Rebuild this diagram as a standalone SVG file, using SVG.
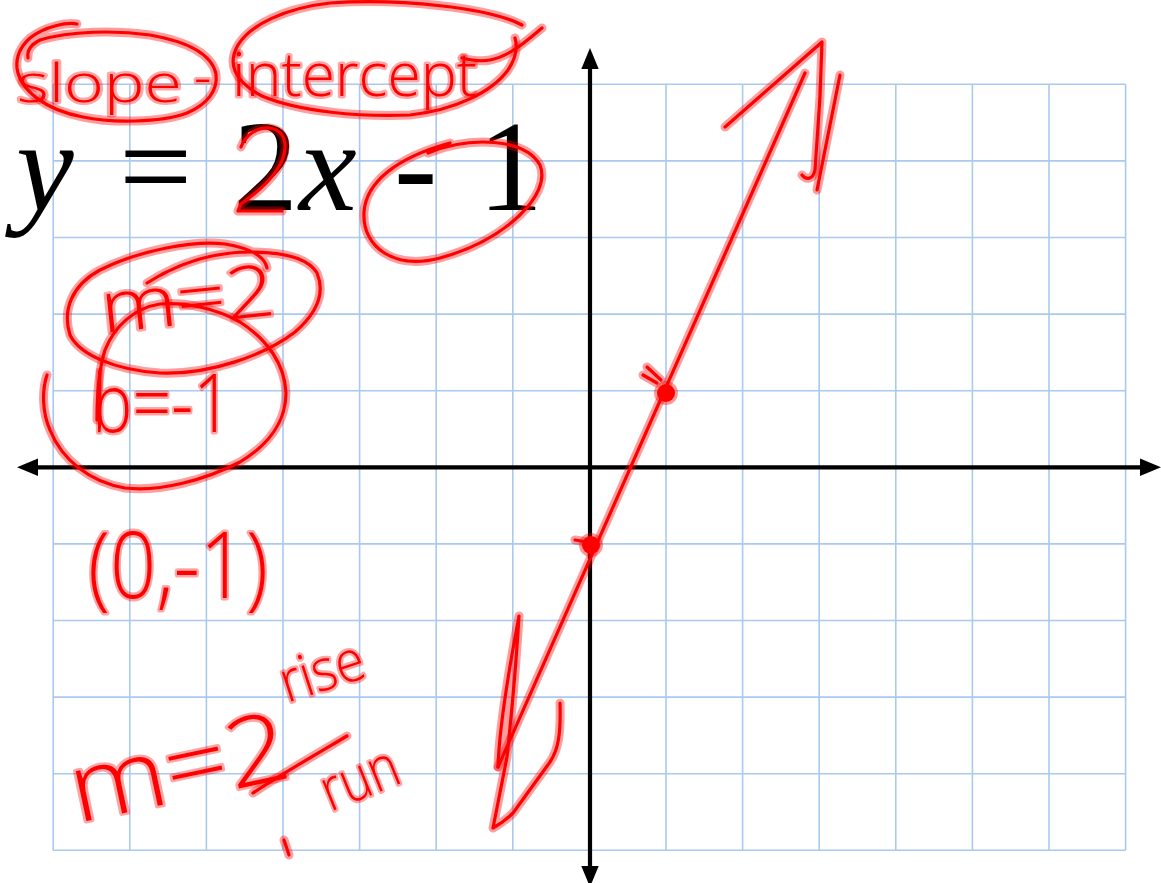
<svg xmlns="http://www.w3.org/2000/svg" xmlns:xlink="http://www.w3.org/1999/xlink" width="1161" height="883" viewBox="0 0 1161 883">
<style>
.grid line{stroke:#a9c9ef;stroke-width:1.6}
.axis{stroke:#000;stroke-width:4.2;fill:none}
.ah{fill:#000}
.eq{font-family:"Liberation Serif","Times New Roman",serif;font-size:130px;fill:#000}
.it{font-style:italic}
.halo{fill:none;stroke:#ff0000;stroke-opacity:.38;stroke-width:9;stroke-linecap:round;stroke-linejoin:round}
.core{fill:none;stroke:#ff0000;stroke-width:3.2;stroke-linecap:round;stroke-linejoin:round}
.dot{fill:#ff0000;stroke:#ff0000;stroke-opacity:.4;stroke-width:6}
.hw{font-family:"Open Sans","Noto Sans","Liberation Sans",sans-serif;font-weight:300;fill:#ff0000;stroke:#ff0000;stroke-opacity:.35;stroke-width:5;paint-order:stroke;stroke-linejoin:round}
</style>
<defs>
<g id="ink">
<!-- slope ellipse -->
<path d="M77 24 C68 22 45 26 30 38 C20 47 16 58 17 68 C20 90 45 110 83 117 C110 123 160 123 187 113 C208 104 218 90 216 74 C212 55 190 42 150 35 C115 30 70 31 40 40 C30 45 27 52 28 58"/>
<!-- intercept ellipse -->
<path d="M522 25 C490 8 400 -2 330 3 C285 8 250 25 238 45 C228 62 232 80 262 96 C300 112 360 117 410 115 C455 110 492 92 508 70 C516 58 518 48 515 38"/>
<path d="M542 28 C525 42 510 56 490 60 C480 62 470 60 462 58"/>
<!-- circle around -1 -->
<path d="M428 153 C470 136 525 138 540 165 C552 195 505 240 440 258 C395 270 362 248 364 212 C366 183 395 158 450 143"/>
<!-- trace over 2 -->
<path d="M241 147 C246 134 258 127 270 128 C284 130 288 143 283 158 C277 175 258 192 241 204 L238 211 L282 211"/>
<!-- m=2 ellipse -->
<path d="M267 268 C265 258 255 249 225 244 C195 240 140 250 100 270 C72 285 62 310 70 335 C80 355 115 370 160 373 C210 375 265 355 295 332 C318 312 325 292 317 273 C308 258 285 252 250 252 C215 252 180 262 147 283"/>
<!-- b circle -->
<path d="M47 375 C42 390 42 412 50 430 C62 460 90 482 125 488 C160 492 205 480 240 462 C270 444 286 420 286 393 C285 365 268 340 240 322 C215 308 185 302 160 304 C135 308 115 325 105 350 C98 372 97 400 97 420"/>
<!-- main graph line -->
<path d="M805 73 L498 767"/>
<!-- top arrowhead -->
<path d="M725 127 L822 42 L820 97 L815 170 C813 180 806 180 802 175"/>
<path d="M840 75 L817 190"/>
<!-- bottom arrowhead -->
<path d="M498 767 C499 735 505 690 519 616 C517 650 512 710 507 757 L493 828 C500 824 508 818 513 813 L550 762 C558 750 561 735 560 703"/>
<!-- point marks -->
<path d="M647 367 L661 380 M643 375 L657 383"/>
<path d="M575 540 L587 542"/>
<!-- fraction slash and tick -->
<path d="M253 793 C280 775 320 752 347 736"/>
<path d="M284 840 L289 855"/>
</g>
</defs>

<g id="grid" class="grid">
<line x1="53.2" y1="84.3" x2="53.2" y2="850.3"/>
<line x1="129.8" y1="84.3" x2="129.8" y2="850.3"/>
<line x1="206.4" y1="84.3" x2="206.4" y2="850.3"/>
<line x1="283" y1="84.3" x2="283" y2="850.3"/>
<line x1="359.6" y1="84.3" x2="359.6" y2="850.3"/>
<line x1="436.2" y1="84.3" x2="436.2" y2="850.3"/>
<line x1="512.8" y1="84.3" x2="512.8" y2="850.3"/>
<line x1="666" y1="84.3" x2="666" y2="850.3"/>
<line x1="742.6" y1="84.3" x2="742.6" y2="850.3"/>
<line x1="819.2" y1="84.3" x2="819.2" y2="850.3"/>
<line x1="895.8" y1="84.3" x2="895.8" y2="850.3"/>
<line x1="972.4" y1="84.3" x2="972.4" y2="850.3"/>
<line x1="1049" y1="84.3" x2="1049" y2="850.3"/>
<line x1="1125.6" y1="84.3" x2="1125.6" y2="850.3"/>
<line x1="53.2" y1="84.3" x2="1125.6" y2="84.3"/>
<line x1="53.2" y1="160.9" x2="1125.6" y2="160.9"/>
<line x1="53.2" y1="237.5" x2="1125.6" y2="237.5"/>
<line x1="53.2" y1="314.1" x2="1125.6" y2="314.1"/>
<line x1="53.2" y1="390.7" x2="1125.6" y2="390.7"/>
<line x1="53.2" y1="543.9" x2="1125.6" y2="543.9"/>
<line x1="53.2" y1="620.5" x2="1125.6" y2="620.5"/>
<line x1="53.2" y1="697.1" x2="1125.6" y2="697.1"/>
<line x1="53.2" y1="773.7" x2="1125.6" y2="773.7"/>
<line x1="53.2" y1="850.3" x2="1125.6" y2="850.3"/>
</g>

<g id="axes">
<line class="axis" x1="34" y1="467.3" x2="1144" y2="467.3"/>
<line class="axis" x1="590" y1="64" x2="590" y2="870"/>
<polygon class="ah" points="17,467.3 38,458.5 38,476.1"/>
<polygon class="ah" points="1161,467.3 1140,458.5 1140,476.1"/>
<polygon class="ah" points="590,48 581.3,69 598.7,69"/>
<polygon class="ah" points="590,887 581.3,866 598.7,866"/>
</g>

<g id="equation">
<text class="eq it" x="16" y="210">y</text>
<text class="eq" x="119" y="210">=</text>
<text class="eq" x="233" y="210">2</text>
<text class="eq it" x="299" y="210">x</text>
<text class="eq" x="394" y="210">-</text>
<text class="eq" x="478" y="210">1</text>
</g>

<g id="strokes">
<use xlink:href="#ink" class="halo"/>
<use xlink:href="#ink" class="core"/>
<circle class="dot" cx="666" cy="393" r="9"/>
<circle class="dot" cx="591" cy="545" r="9"/>
</g>

<g id="notes">
<text class="hw" x="17" y="102" font-size="54" textLength="165" lengthAdjust="spacingAndGlyphs">slope</text>
<text class="hw" x="194" y="95" font-size="54">-</text>
<text class="hw" x="232" y="96" font-size="60" textLength="245" lengthAdjust="spacingAndGlyphs">intercept</text>
<text class="hw" transform="rotate(-6 103 333)" x="103" y="333" font-size="72" textLength="175" lengthAdjust="spacingAndGlyphs">m=2</text>
<text class="hw" x="92" y="432" font-size="82" textLength="140" lengthAdjust="spacingAndGlyphs">b=-1</text>
<text class="hw" x="88" y="598" font-size="92" textLength="180" lengthAdjust="spacingAndGlyphs">(0,-1)</text>
<text class="hw" transform="rotate(-12 77 823)" x="77" y="823" font-size="96" textLength="222" lengthAdjust="spacingAndGlyphs">m=2</text>
<text class="hw" transform="rotate(-18 287 703)" x="287" y="703" font-size="58" textLength="86" lengthAdjust="spacingAndGlyphs">rise</text>
<text class="hw" transform="rotate(-22 330 812)" x="330" y="812" font-size="60" textLength="80" lengthAdjust="spacingAndGlyphs">run</text>
</g>
</svg>
